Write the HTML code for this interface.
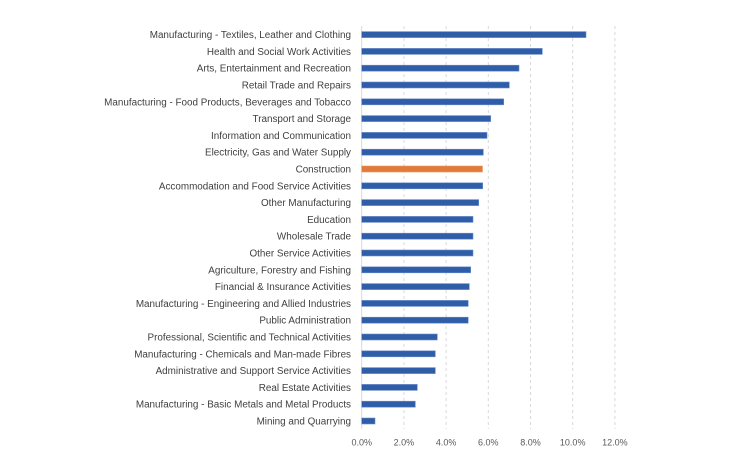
<!DOCTYPE html>
<html>
<head>
<meta charset="utf-8">
<style>
  html, body { margin: 0; padding: 0; background: #ffffff; }
  body { width: 734px; height: 464px; overflow: hidden; }
  svg { display: block; }
  .lbl { font-family: "Liberation Sans", Arial, sans-serif; font-size: 9.9px; fill: #404040; }
  .tick { font-family: "Liberation Sans", Arial, sans-serif; font-size: 9px; fill: #595959; }
</style>
</head>
<body>
<svg width="734" height="464" viewBox="0 0 734 464" xmlns="http://www.w3.org/2000/svg">
  <!-- gridlines -->
  <g stroke="#d9d9d9" stroke-width="1" stroke-dasharray="3,3">
    <line x1="403.9" y1="26" x2="403.9" y2="429"/>
    <line x1="446.1" y1="26" x2="446.1" y2="429"/>
    <line x1="488.3" y1="26" x2="488.3" y2="429"/>
    <line x1="530.5" y1="26" x2="530.5" y2="429"/>
    <line x1="572.7" y1="26" x2="572.7" y2="429"/>
    <line x1="614.9" y1="26" x2="614.9" y2="429"/>
  </g>
  <line x1="361.7" y1="26" x2="361.7" y2="429" stroke="#d9d9d9" stroke-width="1"/>

  <!-- bars -->
  <g fill="#2f5da8" stroke="#6b8fcc" stroke-width="0.6">
    <rect x="361.7" y="31.6" width="224.3" height="6"/>
    <rect x="361.7" y="48.4" width="180.6" height="6"/>
    <rect x="361.7" y="65.2" width="157.3" height="6"/>
    <rect x="361.7" y="82.0" width="147.6" height="6"/>
    <rect x="361.7" y="98.8" width="142.0" height="6"/>
    <rect x="361.7" y="115.6" width="129.0" height="6"/>
    <rect x="361.7" y="132.4" width="125.3" height="6"/>
    <rect x="361.7" y="149.2" width="121.6" height="6"/>
    <rect x="361.7" y="182.8" width="121.0" height="6"/>
    <rect x="361.7" y="199.6" width="117.0" height="6"/>
    <rect x="361.7" y="216.4" width="111.3" height="6"/>
    <rect x="361.7" y="233.2" width="111.3" height="6"/>
    <rect x="361.7" y="250.0" width="111.3" height="6"/>
    <rect x="361.7" y="266.8" width="109.0" height="6"/>
    <rect x="361.7" y="283.6" width="107.6" height="6"/>
    <rect x="361.7" y="300.4" width="106.5" height="6"/>
    <rect x="361.7" y="317.2" width="106.5" height="6"/>
    <rect x="361.7" y="334.0" width="75.6" height="6"/>
    <rect x="361.7" y="350.8" width="73.6" height="6"/>
    <rect x="361.7" y="367.6" width="73.6" height="6"/>
    <rect x="361.7" y="384.4" width="55.6" height="6"/>
    <rect x="361.7" y="401.2" width="53.6" height="6"/>
    <rect x="361.7" y="418.0" width="13.3" height="6"/>
  </g>
  <rect x="361.7" y="166.0" width="120.8" height="6" fill="#e07b39" stroke="#ea9a66" stroke-width="0.6"/>

  <!-- category labels -->
  <g class="lbl" text-anchor="end">
    <text x="351" y="38.1">Manufacturing - Textiles, Leather and Clothing</text>
    <text x="351" y="54.9">Health and Social Work Activities</text>
    <text x="351" y="71.7">Arts, Entertainment and Recreation</text>
    <text x="351" y="88.5">Retail Trade and Repairs</text>
    <text x="351" y="105.3">Manufacturing - Food Products, Beverages and Tobacco</text>
    <text x="351" y="122.1">Transport and Storage</text>
    <text x="351" y="138.9">Information and Communication</text>
    <text x="351" y="155.7">Electricity, Gas and Water Supply</text>
    <text x="351" y="172.5">Construction</text>
    <text x="351" y="189.3">Accommodation and Food Service Activities</text>
    <text x="351" y="206.1">Other Manufacturing</text>
    <text x="351" y="222.9">Education</text>
    <text x="351" y="239.7">Wholesale Trade</text>
    <text x="351" y="256.5">Other Service Activities</text>
    <text x="351" y="273.3">Agriculture, Forestry and Fishing</text>
    <text x="351" y="290.1">Financial &amp; Insurance Activities</text>
    <text x="351" y="306.9">Manufacturing - Engineering and Allied Industries</text>
    <text x="351" y="323.7">Public Administration</text>
    <text x="351" y="340.5">Professional, Scientific and Technical Activities</text>
    <text x="351" y="357.3">Manufacturing - Chemicals and Man-made Fibres</text>
    <text x="351" y="374.1">Administrative and Support Service Activities</text>
    <text x="351" y="390.9">Real Estate Activities</text>
    <text x="351" y="407.7">Manufacturing - Basic Metals and Metal Products</text>
    <text x="351" y="424.5">Mining and Quarrying</text>
  </g>

  <!-- tick labels -->
  <g class="tick" text-anchor="middle">
    <text x="361.7" y="445.5">0.0%</text>
    <text x="403.9" y="445.5">2.0%</text>
    <text x="446.1" y="445.5">4.0%</text>
    <text x="488.3" y="445.5">6.0%</text>
    <text x="530.5" y="445.5">8.0%</text>
    <text x="572.7" y="445.5">10.0%</text>
    <text x="614.9" y="445.5">12.0%</text>
  </g>
</svg>
</body>
</html>
